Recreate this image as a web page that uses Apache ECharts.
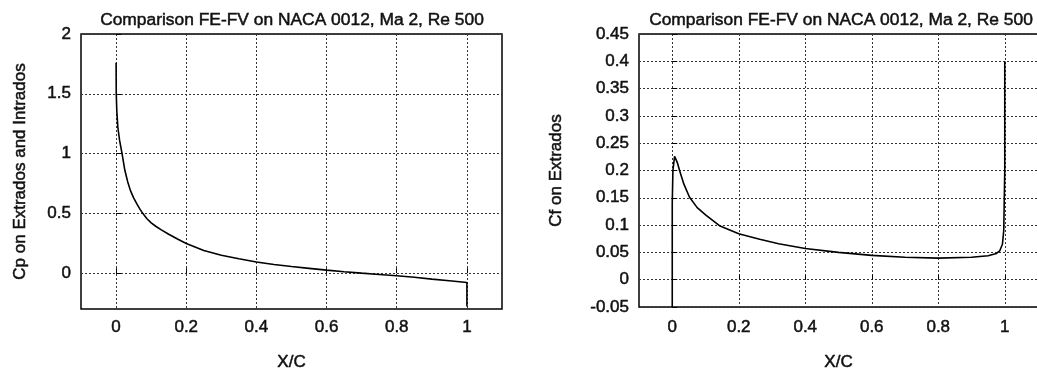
<!DOCTYPE html>
<html>
<head>
<meta charset="utf-8">
<script src="https://cdn.jsdelivr.net/npm/echarts@6/dist/echarts.min.js"></script>
<style>html,body{margin:0;padding:0;background:#fff;}#c{width:1037px;height:370px;}</style>
</head>
<body>
<div id="c"></div>
<script>
// ---- Data ----
const titleText = 'Comparison FE-FV on NACA 0012, Ma 2, Re 500';
const xTicks = [0, 0.2, 0.4, 0.6, 0.8, 1];
const cpTicks = [0, 0.5, 1, 1.5, 2];

// Left: Cp on Extrados and Intrados
const cpX = [0, 0.0005, 0.002, 0.005, 0.01, 0.017, 0.025, 0.033, 0.041, 0.05, 0.06, 0.068, 0.076, 0.088, 0.1, 0.114, 0.129, 0.15, 0.175, 0.2, 0.25, 0.3, 0.35, 0.4, 0.45, 0.5, 0.55, 0.6, 0.65, 0.7, 0.75, 0.8, 0.85, 0.9, 0.95, 1.0, 1.0];
const cpY = [1.76, 1.5, 1.36, 1.22, 1.11, 1.0, 0.86, 0.765, 0.69, 0.63, 0.575, 0.535, 0.5, 0.455, 0.42, 0.39, 0.362, 0.325, 0.285, 0.248, 0.19, 0.149, 0.12, 0.093, 0.072, 0.055, 0.04, 0.025, 0.012, 0.0, -0.011, -0.022, -0.035, -0.05, -0.064, -0.078, -0.28];

// Right: Cf on Extrados
const cfX = [0, 0, 0.002, 0.007, 0.015, 0.022, 0.035, 0.052, 0.075, 0.102, 0.142, 0.2, 0.263, 0.32, 0.4, 0.5, 0.6, 0.7, 0.8, 0.9, 0.95, 0.975, 0.985, 0.993, 0.997, 1.0, 1.0];
const cfY = [-0.05, 0.14, 0.2, 0.226, 0.215, 0.2, 0.175, 0.151, 0.132, 0.118, 0.099, 0.084, 0.074, 0.066, 0.057, 0.05, 0.0445, 0.041, 0.0396, 0.041, 0.044, 0.048, 0.053, 0.065, 0.09, 0.2, 0.40];

const zip = (xs, ys) => xs.map((x, i) => [x, ys[i]]);

const FONT = 'Liberation Sans';
const txt = { fontFamily: FONT, fontSize: 17, color: '#111', textBorderColor: '#111', textBorderWidth: 0.5 };
const split = { show: true, lineStyle: { color: '#333', type: [2, 2], width: 1 } };

const chart = echarts.init(document.getElementById('c'), null, { renderer: 'canvas' });
chart.setOption({
  backgroundColor: '#fff',
  animation: false,
  title: [
    { text: titleText, left: 287, top: 7, textAlign: 'center', textStyle: { ...txt, fontSize: 17.4, fontWeight: 'normal' } },
    { text: titleText, left: 836, top: 7, textAlign: 'center', textStyle: { ...txt, fontSize: 17.4, fontWeight: 'normal' } }
  ],
  grid: [
    { left: 81, top: 34, width: 421, height: 275, show: true, borderColor: '#000', borderWidth: 1.5, backgroundColor: 'transparent', containLabel: false, outerBoundsMode: 'none' },
    { left: 639, top: 34, width: 399, height: 273, show: true, borderColor: '#000', borderWidth: 1.5, backgroundColor: 'transparent', containLabel: false, outerBoundsMode: 'none' }
  ],
  xAxis: [
    {
      gridIndex: 0, type: 'value', min: -0.1, max: 1.1,
      name: 'X/C', nameLocation: 'middle', nameGap: 45, nameTextStyle: txt,
      axisLine: { show: false },
      axisTick: { show: true, inside: true, length: 5, customValues: xTicks, lineStyle: { color: '#000' } },
      axisLabel: { ...txt, margin: 10, customValues: xTicks },
      splitLine: split
    },
    {
      gridIndex: 1, type: 'value', min: -0.1, max: 1.1,
      name: 'X/C', nameLocation: 'middle', nameGap: 47, nameTextStyle: txt,
      axisLine: { show: false },
      axisTick: { show: true, inside: true, length: 5, customValues: xTicks, lineStyle: { color: '#000' } },
      axisLabel: { ...txt, margin: 12, customValues: xTicks },
      splitLine: split
    }
  ],
  yAxis: [
    {
      gridIndex: 0, type: 'value', min: -0.3, max: 2,
      name: 'Cp on Extrados and Intrados', nameLocation: 'middle', nameGap: 52, nameTextStyle: txt,
      axisLine: { show: false },
      axisTick: { show: true, inside: true, length: 5, customValues: cpTicks, lineStyle: { color: '#000' } },
      axisLabel: { ...txt, margin: 10, customValues: cpTicks },
      splitLine: split
    },
    {
      gridIndex: 1, type: 'value', min: -0.05, max: 0.45, interval: 0.05,
      name: 'Cf on Extrados', nameLocation: 'middle', nameGap: 74, nameTextStyle: txt,
      axisLine: { show: false },
      axisTick: { show: true, inside: true, length: 5, lineStyle: { color: '#000' } },
      axisLabel: { ...txt, margin: 10, formatter: v => String(Math.round(v * 100) / 100) },
      splitLine: split
    }
  ],
  series: [
    { type: 'line', xAxisIndex: 0, yAxisIndex: 0, data: zip(cpX, cpY), showSymbol: false, lineStyle: { color: '#000', width: 1.6 }, clip: true },
    { type: 'line', xAxisIndex: 1, yAxisIndex: 1, data: zip(cfX, cfY), showSymbol: false, lineStyle: { color: '#000', width: 1.6 }, clip: true }
  ]
});
</script>
</body>
</html>
